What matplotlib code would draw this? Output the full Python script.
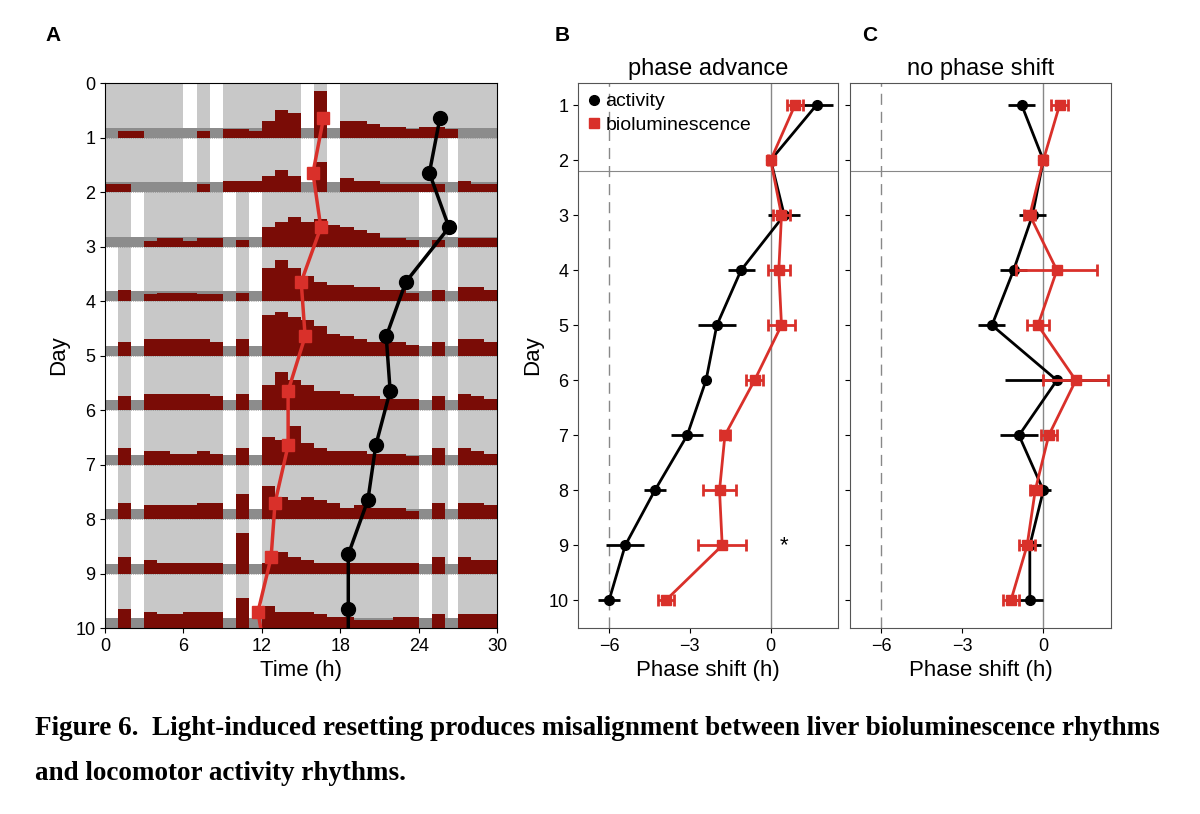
import numpy as np
import matplotlib.pyplot as plt
from matplotlib.lines import Line2D

plt.rcParams["font.family"] = ["Liberation Sans", "DejaVu Sans"]

# ---- panel A data ----
hours = np.arange(30)
# white (lights) gaps per row, in hours
gaps_top = [(6, 7), (8, 9), (15, 16), (17, 18)]
gaps_row = {0: gaps_top, 1: gaps_top + [(26.2, 27)],
            2: [(2, 3), (9, 10), (11, 12), (24, 25), (26.2, 27)]}
gaps_late = [(0, 1), (2, 3), (9, 10), (11, 12), (24, 25), (26.2, 27)]

red_act = [
    [0, .12, .12, 0, 0, 0, 0, .12, 0, .15, .15, .12, .3, .5, .45, 0, .85, 0, .3, .3, .25, .2, .2, .15, .2, .2, .15, 0, 0, 0],
    [.15, .15, 0, 0, 0, 0, 0, .15, 0, .2, .2, .2, .3, .4, .3, 0, .55, 0, .25, .2, .2, .15, .15, .15, .15, .15, 0, .2, .15, .15],
    [0, 0, 0, .1, .15, .15, .1, .15, .15, 0, .12, 0, .35, .45, .55, .45, .5, .4, .35, .3, .25, .15, .15, .12, 0, .12, 0, .15, .15, .15],
    [0, .2, 0, .12, .15, .15, .15, .12, .12, 0, .15, 0, .6, .75, .6, .45, .35, .3, .3, .25, .25, .2, .2, .15, 0, .2, 0, .25, .25, .2],
    [0, .25, 0, .3, .3, .3, .3, .3, .25, 0, .3, 0, .75, .8, .7, .65, .55, .4, .35, .3, .25, .25, .25, .2, 0, .25, 0, .3, .3, .25],
    [0, .25, 0, .3, .3, .3, .3, .3, .25, 0, .3, 0, .45, .7, .55, .45, .35, .35, .3, .25, .25, .2, .2, .2, 0, .25, 0, .3, .25, .2],
    [0, .3, 0, .25, .25, .2, .2, .25, .2, 0, .3, 0, .5, .45, .7, .4, .3, .25, .25, .25, .2, .2, .2, .15, 0, .3, 0, .3, .25, .2],
    [0, .3, 0, .25, .25, .25, .25, .3, .3, 0, .45, 0, .6, .4, .35, .4, .35, .3, .2, .25, .2, .2, .2, .15, 0, .3, 0, .3, .3, .25],
    [0, .3, 0, .25, .2, .2, .2, .2, .2, 0, .75, 0, .2, .4, .3, .25, .2, .2, .2, .2, .2, .2, .2, .2, 0, .3, 0, .3, .25, .25],
    [0, .35, 0, .3, .25, .25, .3, .3, .3, 0, .55, 0, .4, .3, .3, .3, .25, .2, .2, .15, .15, .15, .2, .2, 0, .25, 0, .25, .25, .25],
]
gray_level = 0.18

biolum_t = [16.7, 15.9, 16.5, 15.0, 15.3, 14.0, 14.0, 13.0, 12.7, 11.7]
biolum_d = [0.65, 1.65, 2.65, 3.65, 4.65, 5.65, 6.65, 7.7, 8.7, 9.7]
act_t = [25.6, 24.8, 26.3, 23.0, 21.5, 21.8, 20.7, 20.1, 18.6, 18.6]
act_d = [0.65, 1.65, 2.65, 3.65, 4.65, 5.65, 6.65, 7.65, 8.65, 9.65]

# ---- panels B, C data ----
days = np.arange(1, 11)
b_act = [1.7, 0.0, 0.5, -1.1, -2.0, -2.4, -3.1, -4.3, -5.4, -6.0]
b_act_err = [0.6, 0.1, 0.6, 0.5, 0.7, 0.15, 0.6, 0.4, 0.7, 0.4]
b_bio = [0.9, 0.0, 0.4, 0.3, 0.4, -0.6, -1.7, -1.9, -1.8, -3.9]
b_bio_err = [0.3, 0.1, 0.3, 0.4, 0.5, 0.3, 0.2, 0.6, 0.9, 0.3]
c_act = [-0.8, 0.0, -0.4, -1.1, -1.9, 0.5, -0.9, 0.0, -0.5, -0.5]
c_act_err = [0.5, 0.1, 0.5, 0.5, 0.5, 1.9, 0.7, 0.3, 0.4, 0.5]
c_bio = [0.6, 0.0, -0.5, 0.5, -0.2, 1.2, 0.2, -0.3, -0.6, -1.2]
c_bio_err = [0.3, 0.1, 0.2, 1.5, 0.4, 1.2, 0.3, 0.2, 0.3, 0.3]

RED = "#d9302a"
DARKRED = "#7a0c06"

fig = plt.figure(figsize=(12, 8.14), dpi=100)

# ---- panel A ----
axA = fig.add_axes([0.0875, 0.2285, 0.327, 0.6695])
for r in range(10):
    axA.axhspan(r, r + 1, color="#c8c8c8", lw=0, zorder=0)
    gaps = gaps_row.get(r, gaps_late)
    for a, b in gaps:
        axA.fill_between([a, b], r, r + 1, color="white", lw=0, zorder=0.5)
    base = r + 1
    axA.fill_between([0, 30], base, base - gray_level, color="#8c8c8c", lw=0, zorder=1)
    vals = np.array(red_act[r])
    axA.bar(hours, -vals, width=1, align="edge", bottom=base,
            color=DARKRED, lw=0, zorder=2)
    axA.axhline(base, color="#777777", lw=0.5, ls=":", zorder=2.5)
axA.plot(biolum_t + [11.9], biolum_d + [10], color=RED, lw=2.5, zorder=3)
axA.plot(biolum_t, biolum_d, "s", color=RED, ms=9, zorder=4)
axA.plot(act_t + [18.6], act_d + [10], color="black", lw=2.5, zorder=3)
axA.plot(act_t, act_d, "o", color="black", ms=10, zorder=4)
axA.set_xlim(0, 30)
axA.set_ylim(10, 0)
axA.set_xticks(range(0, 31, 6))
axA.set_yticks(range(11))
axA.set_xlabel("Time (h)", fontsize=16)
axA.set_ylabel("Day", fontsize=16)
axA.tick_params(labelsize=13)

def phase_panel(rect, act, act_err, bio, bio_err, title):
    ax = fig.add_axes(rect)
    ax.axvline(-6, color="#888888", lw=1, ls=(0, (8, 5)))
    ax.axvline(0, color="#888888", lw=1)
    ax.axhline(2.2, color="#888888", lw=0.8)
    ax.errorbar(act, days, xerr=act_err, color="black", lw=2, elinewidth=2,
                marker="o", ms=7, capsize=0, zorder=3)
    ax.errorbar(bio, days, xerr=bio_err, color=RED, lw=2, elinewidth=2,
                marker="s", ms=7, capsize=4, capthick=2, zorder=4)
    ax.set_xlim(-7.15, 2.5)
    ax.set_ylim(10.5, 0.6)
    ax.set_xticks([-6, -3, 0])
    ax.set_yticks(days)
    ax.set_xlabel("Phase shift (h)", fontsize=16)
    ax.set_title(title, fontsize=17, pad=6)
    ax.tick_params(labelsize=13)
    for s in ax.spines.values():
        s.set_color("#555555")
    return ax

axB = phase_panel([0.4817, 0.2285, 0.2167, 0.6695], b_act, b_act_err, b_bio, b_bio_err, "phase advance")
axB.set_ylabel("Day", fontsize=16)
axB.text(0.5, 9.0, "*", fontsize=16, ha="center", va="center")
handles = [Line2D([], [], color="black", marker="o", ls="none", ms=7),
           Line2D([], [], color=RED, marker="s", ls="none", ms=7)]
axB.legend(handles, ["activity", "bioluminescence"], loc="upper left", frameon=False,
           fontsize=14, handlelength=0.6, handletextpad=0.3, borderaxespad=0.1,
           labelspacing=0.3)
axC = phase_panel([0.7083, 0.2285, 0.2175, 0.6695], c_act, c_act_err, c_bio, c_bio_err, "no phase shift")
axC.tick_params(labelleft=False)

fig.text(0.0375, 0.95, "A", fontsize=15, fontweight="bold")
fig.text(0.4625, 0.95, "B", fontsize=15, fontweight="bold")
fig.text(0.7183, 0.95, "C", fontsize=15, fontweight="bold")

fig.text(0.029, 0.097, "Figure 6.  Light-induced resetting produces misalignment between liver bioluminescence rhythms",
         fontsize=19.5, fontweight="bold", family="Liberation Serif")
fig.text(0.029, 0.042, "and locomotor activity rhythms.",
         fontsize=19.5, fontweight="bold", family="Liberation Serif")

fig.savefig("out.png", dpi=100)
